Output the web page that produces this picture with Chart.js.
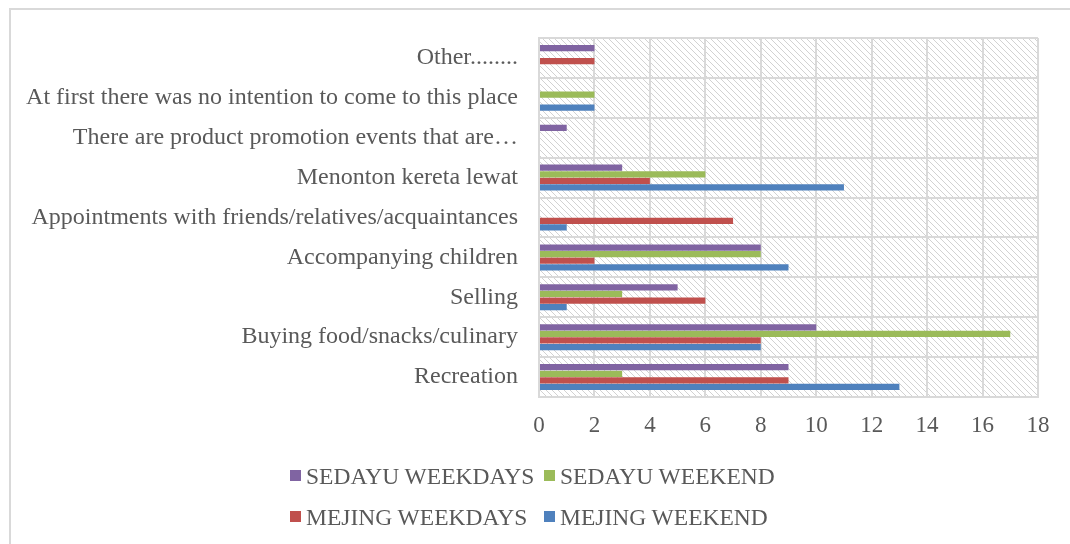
<!DOCTYPE html>
<html>
<head>
<meta charset="utf-8">
<script src="https://cdn.jsdelivr.net/npm/chart.js@4"></script>
<style>
  body { margin: 0; background: #fff; }
  #wrap { position: relative; width: 1070px; height: 544px; overflow: hidden; }
  #frame { position: absolute; left: 9px; top: 8px; width: 1100px; height: 600px;
           border-left: 2px solid #d9d9d9; border-top: 2px solid #d9d9d9; }
  #c { position: absolute; left: 0; top: 0; }
  .item { position: absolute; font-family: "Liberation Serif", "Times New Roman", serif;
          font-size: 23.5px; color: #595959; white-space: nowrap; line-height: 23.5px; }
  .box { position: absolute; width: 11px; height: 11px; }
</style>
</head>
<body>
<div id="wrap">
  <div id="frame"></div>
  <canvas id="c" width="1070" height="544"></canvas>
  <div id="legend"></div>
</div>
<script>
var categories = ["Other........",
  "At first there was no intention to come to this place",
  "There are product promotion events that are\u2026",
  "Menonton kereta lewat",
  "Appointments with friends/relatives/acquaintances",
  "Accompanying children",
  "Selling",
  "Buying food/snacks/culinary",
  "Recreation"]

var sedayuWeekdays = [2, 0, 1, 3, 0, 8, 5, 10, 9]
var sedayuWeekend  = [0, 2, 0, 6, 0, 8, 3, 17, 3]
var mejingWeekdays = [2, 0, 0, 4, 7, 2, 6, 8, 9]
var mejingWeekend  = [0, 2, 0, 11, 1, 9, 1, 8, 13]

var seriesNames  = ["SEDAYU WEEKDAYS", "SEDAYU WEEKEND", "MEJING WEEKDAYS", "MEJING WEEKEND"]
var seriesColors = ["#8064A2", "#9BBB59", "#C0504D", "#4F81BD"]
var seriesData   = [sedayuWeekdays, sedayuWeekend, mejingWeekdays, mejingWeekend]

var xMax = 18
var xStep = 2

// hatch pattern for the plot area
var pat = document.createElement("canvas")
pat.width = 6; pat.height = 6
var pc = pat.getContext("2d")
pc.strokeStyle = "#d2d2d2"
pc.lineWidth = 1
pc.beginPath()
pc.moveTo(-1, -1); pc.lineTo(7, 7)
pc.moveTo(-1, 5); pc.lineTo(1, 7)
pc.moveTo(5, -1); pc.lineTo(7, 1)
pc.stroke()

var hatch = {
  id: "hatch",
  beforeDraw: function(chart) {
    var a = chart.chartArea
    var ctx = chart.ctx
    ctx.save()
    ctx.fillStyle = ctx.createPattern(pat, "repeat")
    ctx.fillRect(a.left, a.top, a.right - a.left, a.bottom - a.top)
    ctx.restore()
  }
}

var datasets = []
for (var i = 0; i < seriesNames.length; i++) {
  datasets.push({
    label: seriesNames[i],
    data: seriesData[i],
    backgroundColor: seriesColors[i],
    borderWidth: 0,
    barPercentage: 0.95,
    categoryPercentage: 0.66
  })
}

var labelFont = { family: "'Liberation Serif', 'Times New Roman', serif", size: 24 }
var tickFont = { family: "'Liberation Serif', 'Times New Roman', serif", size: 23 }

new Chart(document.getElementById("c"), {
  type: "bar",
  data: { labels: categories, datasets: datasets },
  plugins: [hatch],
  options: {
    responsive: false,
    animation: false,
    indexAxis: "y",
    layout: { padding: { left: 0, right: 32, top: 38, bottom: 97 } },
    plugins: { legend: { display: false }, tooltip: { enabled: false } },
    scales: {
      x: {
        min: 0, max: xMax,
        ticks: { stepSize: xStep, color: "#595959", font: tickFont, padding: 15 },
        grid: { color: "#d9d9d9", lineWidth: 2, drawTicks: false },
        border: { color: "#d9d9d9", width: 2 },
        afterFit: function(axis) { axis.height = 50 }
      },
      y: {
        ticks: { color: "#595959", font: labelFont, padding: 21, autoSkip: false },
        grid: { color: "#d9d9d9", lineWidth: 2, drawTicks: false, offset: true },
        border: { color: "#d9d9d9", width: 2 },
        afterFit: function(axis) { axis.width = 539 }
      }
    }
  }
})

// legend in two rows, as in the original
var legendPos = [[290, 470], [544, 470], [290, 511], [544, 511]]
var lg = document.getElementById("legend")
for (var k = 0; k < seriesNames.length; k++) {
  var b = document.createElement("div")
  b.className = "box"
  b.style.background = seriesColors[k]
  b.style.left = legendPos[k][0] + "px"
  b.style.top = legendPos[k][1] + "px"
  lg.appendChild(b)
  var t = document.createElement("div")
  t.className = "item"
  t.textContent = seriesNames[k]
  t.style.left = (legendPos[k][0] + 16) + "px"
  t.style.top = (legendPos[k][1] - 5) + "px"
  lg.appendChild(t)
}
</script>
</body>
</html>
